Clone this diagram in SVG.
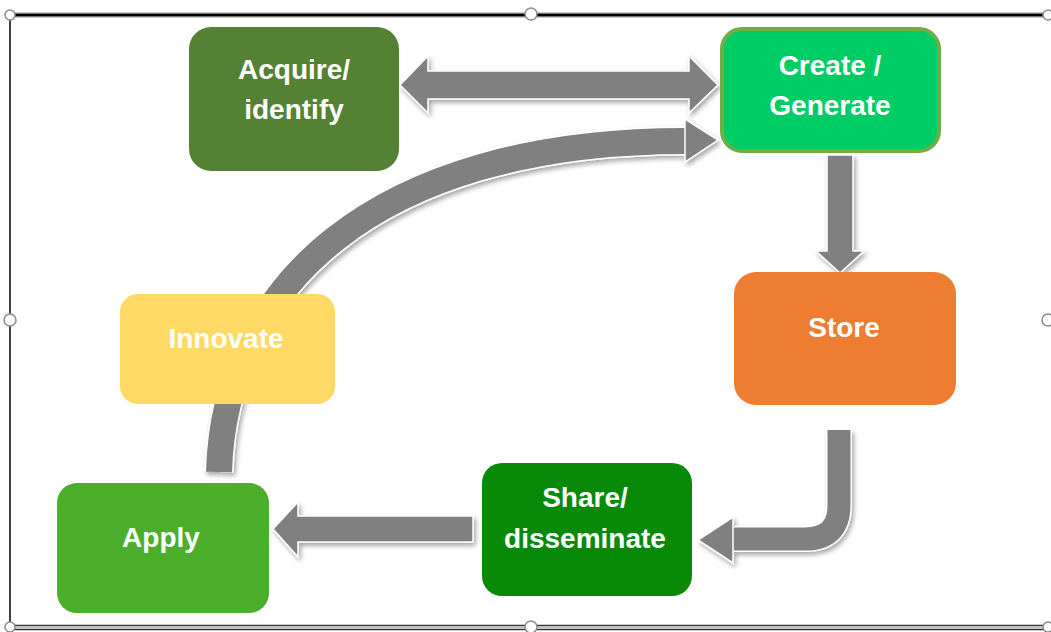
<svg xmlns="http://www.w3.org/2000/svg" width="1051" height="632" viewBox="0 0 1051 632">
<defs>
<style>
.lbl{font-family:"Liberation Sans",Arial,sans-serif;font-weight:bold;font-size:28px;fill:#ffffff;text-anchor:middle}
.arr{fill:#808080;stroke:#ffffff;stroke-width:1.5;stroke-linejoin:miter}
.handle{fill:#ffffff;stroke:#8c8c8c;stroke-width:1.5}
</style>
<filter id="sh" x="-20%" y="-20%" width="140%" height="140%">
<feDropShadow dx="2" dy="3" stdDeviation="2.5" flood-color="#000000" flood-opacity="0.35"/>
</filter>
</defs>
<rect x="0" y="0" width="1051" height="632" fill="#ffffff"/>
<g id="frame">
<line x1="10" y1="15" x2="1048" y2="15" stroke="#9a9a9a" stroke-width="5"/>
<line x1="10" y1="15" x2="1048" y2="15" stroke="#000000" stroke-width="2.5"/>
<line x1="10" y1="15" x2="10" y2="628" stroke="#000000" stroke-width="1.5"/>
<line x1="10" y1="625.5" x2="1048" y2="625.5" stroke="#333333" stroke-width="1.5"/>
<line x1="10" y1="629.5" x2="1048" y2="629.5" stroke="#333333" stroke-width="1.5"/>
<line x1="10" y1="627.5" x2="1048" y2="627.5" stroke="#bdbdbd" stroke-width="2"/>
<circle class="handle" cx="531" cy="14" r="6"/>
<circle class="handle" cx="531" cy="627" r="6"/>
<circle class="handle" cx="10" cy="320" r="6"/>
<circle class="handle" cx="1048" cy="320" r="6"/>
<circle class="handle" cx="10" cy="15" r="5"/>
<circle class="handle" cx="1048" cy="15" r="5"/>
<circle class="handle" cx="10" cy="627" r="5"/>
<circle class="handle" cx="1048" cy="627" r="5"/>
</g>
<g id="connectors" filter="url(#sh)">
<path d="M219 472 C224 290 370 141 686 141" fill="none" stroke="#ffffff" stroke-width="29"/>
<path d="M219 472 C224 290 370 141 686 141" fill="none" stroke="#808080" stroke-width="26"/>
<polygon class="arr" points="685,119 718,140 685,162"/>
<polygon class="arr" points="400,85 428,56 428,71 689,71 689,56 718,85 689,113 689,99 428,99 428,113"/>
<polygon class="arr" points="827,155 853,155 853,251 864,251 840,273 816,251 827,251"/>
<path d="M839 430 V505 Q839 539 805 539 H733" fill="none" stroke="#ffffff" stroke-width="26"/>
<path d="M839 430 V505 Q839 539 805 539 H730" fill="none" stroke="#808080" stroke-width="23"/>
<polygon class="arr" points="733,517 698,540 733,563"/>
<polygon class="arr" points="473,516 298,516 298,502 273,529 298,557 298,542 473,542"/>
</g>
<g id="acquire">
<rect x="189" y="27" width="210" height="144" rx="22" fill="#548235"/>
<text class="lbl" x="294" y="79">Acquire/</text>
<text class="lbl" x="294" y="119">identify</text>
</g>
<g id="create">
<rect x="722" y="29" width="217" height="122" rx="20" fill="#00CC66" stroke="#70AD47" stroke-width="4"/>
<text class="lbl" x="830" y="75">Create /</text>
<text class="lbl" x="830" y="115">Generate</text>
</g>
<g id="store">
<rect x="734" y="272" width="222" height="133" rx="22" fill="#ED7D31"/>
<text class="lbl" x="844" y="337">Store</text>
</g>
<g id="innovate">
<rect x="120" y="294" width="215" height="110" rx="18" fill="#FFD966"/>
<text class="lbl" x="226" y="348">Innovate</text>
</g>
<g id="apply">
<rect x="57" y="483" width="212" height="130" rx="20" fill="#4CAF2C"/>
<text class="lbl" x="161" y="547">Apply</text>
</g>
<g id="share">
<rect x="482" y="463" width="210" height="133" rx="20" fill="#088A08"/>
<text class="lbl" x="585" y="507">Share/</text>
<text class="lbl" x="585" y="548">disseminate</text>
</g>
</svg>
